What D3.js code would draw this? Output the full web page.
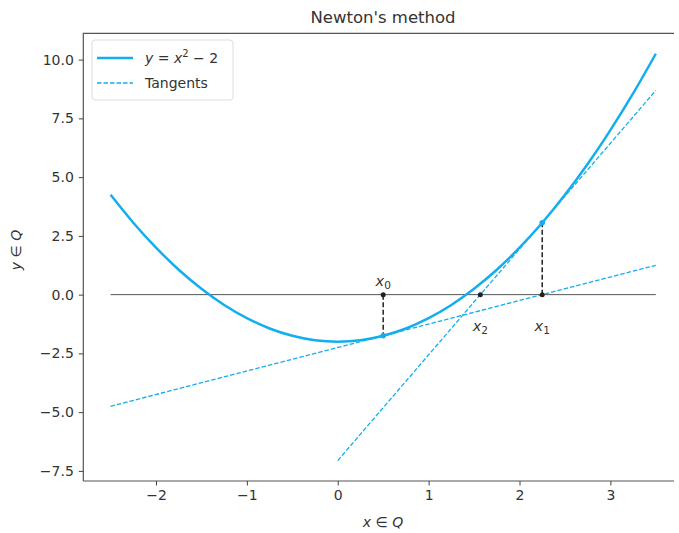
<!DOCTYPE html>
<html>
<head>
<meta charset="utf-8">
<script src="https://cdn.jsdelivr.net/npm/d3@7"></script>
<style>
  body { margin: 0; background: #fff; }
  text { font-family: "DejaVu Sans", sans-serif; fill: #333; }
</style>
</head>
<body>
<div id="chart"></div>
<script>
// Datos de la curva y = x^2 - 2
const curveX = [-2.5, -2.25, -2, -1.75, -1.5, -1.25, -1, -0.75, -0.5, -0.25, 0,
                0.25, 0.5, 0.75, 1, 1.25, 1.5, 1.75, 2, 2.25, 2.5, 2.75, 3, 3.25, 3.5];
const curveY = [4.25, 3.06, 2, 1.06, 0.25, -0.44, -1, -1.44, -1.75, -1.94, -2,
                -1.94, -1.75, -1.44, -1, -0.44, 0.25, 1.06, 2, 3.06, 4.25, 5.56, 7, 8.56, 10.25];

// Tangentes
const tangent1 = [[-2.5, -4.75], [3.5, 1.25]];
const tangent2 = [[0, -7.06], [3.5, 8.69]];

// Iteraciones de Newton
const iterX = [0.5, 2.25, 1.569];
const iterF = [-1.75, 3.06];
const iterLabels = ["0", "1", "2"];

const xTicks = [-2, -1, 0, 1, 2, 3];
const yTicks = [-7.5, -5, -2.5, 0, 2.5, 5, 7.5, 10];

const W = 679, H = 533;
const plot = { left: 83.3, right: 674, top: 33.3, bottom: 481 };
const blue = "#13aeee";

const svg = d3.select("#chart").append("svg")
    .attr("width", W)
    .attr("height", H);

const x = d3.scaleLinear().domain([-2.8, 3.7]).range([plot.left, plot.right]);
const y = d3.scaleLinear().domain([-7.93, 11.12]).range([plot.bottom, plot.top]);

const line = d3.line().x(d => x(d[0])).y(d => y(d[1]));
const smooth = d3.line().x(d => x(d[0])).y(d => y(d[1])).curve(d3.curveNatural);

// Línea horizontal y = 0
svg.append("path")
    .attr("d", line([[-2.5, 0], [3.5, 0]]))
    .attr("stroke", "#555")
    .attr("stroke-width", 1)
    .attr("fill", "none");

// Tangentes
[tangent1, tangent2].forEach(t => {
    svg.append("path")
        .attr("d", line(t))
        .attr("stroke", blue)
        .attr("stroke-width", 1.3)
        .attr("stroke-dasharray", "4.5,2")
        .attr("fill", "none");
});

// Curva
svg.append("path")
    .attr("d", smooth(curveX.map((v, i) => [v, curveY[i]])))
    .attr("stroke", blue)
    .attr("stroke-width", 2.5)
    .attr("fill", "none");

// Segmentos verticales discontinuos
iterF.forEach((f, i) => {
    svg.append("path")
        .attr("d", line([[iterX[i], 0], [iterX[i], f]]))
        .attr("stroke", "#222")
        .attr("stroke-width", 1.5)
        .attr("stroke-dasharray", "5,2.5")
        .attr("fill", "none");
    svg.append("circle")
        .attr("cx", x(iterX[i]))
        .attr("cy", y(f))
        .attr("r", 2.8)
        .attr("fill", blue);
});

// Puntos sobre el eje y etiquetas
iterX.forEach((v, i) => {
    svg.append("circle")
        .attr("cx", x(v))
        .attr("cy", y(0))
        .attr("r", 2.5)
        .attr("fill", "#222");
    const above = i === 0;
    const t = svg.append("text")
        .attr("x", x(v))
        .attr("y", above ? y(0) - 9 : y(0) + 36)
        .attr("text-anchor", "middle")
        .attr("font-size", 14.5);
    t.append("tspan").attr("font-style", "italic").text("x");
    t.append("tspan").attr("font-size", 10.5).attr("dy", 3).text(iterLabels[i]);
});

// Marco
svg.append("path")
    .attr("d", `M${plot.left},${plot.bottom}V${plot.top}H${plot.right}M${plot.left},${plot.bottom}H${plot.right}`)
    .attr("stroke", "#555")
    .attr("stroke-width", 1.2)
    .attr("fill", "none");

// Ejes
const xAxis = svg.append("g")
    .attr("transform", `translate(0,${plot.bottom})`)
    .call(d3.axisBottom(x).tickValues(xTicks).tickSize(4.5).tickPadding(5)
        .tickFormat(d => d < 0 ? "\u2212" + Math.abs(d) : d));
const yAxis = svg.append("g")
    .attr("transform", `translate(${plot.left},0)`)
    .call(d3.axisLeft(y).tickValues(yTicks).tickSize(4.5).tickPadding(5)
        .tickFormat(d => (d < 0 ? "\u2212" : "") + Math.abs(d).toFixed(1)));
[xAxis, yAxis].forEach(a => {
    a.select(".domain").remove();
    a.selectAll(".tick line").attr("stroke", "#444");
    a.selectAll(".tick text").attr("font-size", 14).attr("fill", "#333")
        .style("font-family", "DejaVu Sans, sans-serif");
});

// Título y etiquetas de ejes
svg.append("text")
    .attr("x", 383)
    .attr("y", 23)
    .attr("text-anchor", "middle")
    .attr("font-size", 16.5)
    .text("Newton's method");

const xl = svg.append("text")
    .attr("x", 383)
    .attr("y", 527)
    .attr("text-anchor", "middle")
    .attr("font-size", 14);
xl.append("tspan").attr("font-style", "italic").text("x");
xl.append("tspan").text(" \u2208 ");
xl.append("tspan").attr("font-style", "italic").text("Q");

const yl = svg.append("text")
    .attr("transform", "translate(21,250) rotate(-90)")
    .attr("text-anchor", "middle")
    .attr("font-size", 14);
yl.append("tspan").attr("font-style", "italic").text("y");
yl.append("tspan").text(" \u2208 ");
yl.append("tspan").attr("font-style", "italic").text("Q");

// Leyenda
const lg = svg.append("g");
lg.append("rect")
    .attr("x", 92).attr("y", 40).attr("width", 141).attr("height", 60)
    .attr("rx", 3)
    .attr("fill", "#fff")
    .attr("stroke", "#ddd");
lg.append("line")
    .attr("x1", 97).attr("x2", 133).attr("y1", 58).attr("y2", 58)
    .attr("stroke", blue).attr("stroke-width", 2.5);
lg.append("line")
    .attr("x1", 97).attr("x2", 133).attr("y1", 83).attr("y2", 83)
    .attr("stroke", blue).attr("stroke-width", 1.3).attr("stroke-dasharray", "4.5,2");
const l1 = lg.append("text").attr("x", 145).attr("y", 63).attr("font-size", 14);
l1.append("tspan").attr("font-style", "italic").text("y");
l1.append("tspan").text(" = ");
l1.append("tspan").attr("font-style", "italic").text("x");
l1.append("tspan").attr("font-size", 10).attr("dy", -6).text("2");
l1.append("tspan").attr("dy", 6).text(" \u2212 2");
lg.append("text").attr("x", 145).attr("y", 88).attr("font-size", 14).text("Tangents");
</script>
</body>
</html>
